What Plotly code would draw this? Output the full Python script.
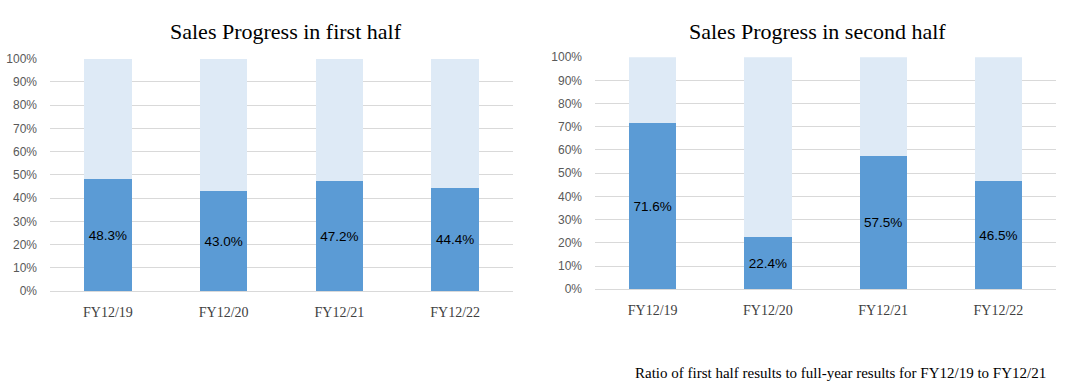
import plotly.graph_objects as go

categories = ["FY12/19", "FY12/20", "FY12/21", "FY12/22"]
first_half = [48.3, 43.0, 47.2, 44.4]
second_half = [71.6, 22.4, 57.5, 46.5]
tick_vals = [0, 10, 20, 30, 40, 50, 60, 70, 80, 90, 100]
tick_text = [f"{v}%" for v in tick_vals]

titles = ["Sales Progress in first half", "Sales Progress in second half"]
footnote = "Ratio of first half results to full-year results for FY12/19 to FY12/21"

DARK = "#5B9BD5"
LIGHT = "#DEEAF6"
GRID = "#D9D9D9"

W, H = 1084, 390

fig = go.Figure()

for i, vals in enumerate([first_half, second_half]):
    xa = "x" if i == 0 else "x2"
    ya = "y" if i == 0 else "y2"
    rest = [round(100 - v, 1) for v in vals]
    fig.add_trace(go.Bar(
        x=categories, y=vals, xaxis=xa, yaxis=ya,
        marker=dict(color=DARK, line=dict(width=0)),
        texttemplate="%{y:.1f}%", textposition="inside",
        insidetextanchor="middle", textangle=0,
        textfont=dict(family="Liberation Sans", size=13.5, color="#000000"),
        showlegend=False, hoverinfo="skip",
    ))
    fig.add_trace(go.Bar(
        x=categories, y=rest, xaxis=xa, yaxis=ya,
        marker=dict(color=LIGHT, line=dict(width=0)),
        showlegend=False, hoverinfo="skip",
    ))

# observed rendering maps spec pixel p -> 7.5 + p*375/390 vertically
def vy(p):
    return (p - 7.5) * 390 / 375

def px_x(a, b):
    return [a / W, b / W]

def px_y(top, bottom):
    return [1 - vy(bottom) / H, 1 - vy(top) / H]

xcommon = dict(
    showgrid=False, zeroline=False, showline=False, ticks="",
    tickfont=dict(family="Liberation Serif", size=14, color="#404040"),
    ticklabelstandoff=11, fixedrange=True,
)
ycommon = dict(
    range=[0, 100], tickvals=tick_vals, ticktext=tick_text,
    showgrid=True, gridcolor=GRID, gridwidth=1, zeroline=True,
    zerolinecolor=GRID, zerolinewidth=1, showline=False, ticks="",
    tickfont=dict(family="Liberation Sans", size=12, color="#595959"),
    ticklabelstandoff=12, fixedrange=True,
)

fig.update_layout(
    width=W, height=H, autosize=False,
    margin=dict(l=0, r=0, t=0, b=0),
    paper_bgcolor="white", plot_bgcolor="white",
    barmode="stack", bargap=0.59,
    xaxis=dict(domain=px_x(50, 513), anchor="y", **xcommon),
    yaxis=dict(domain=px_y(59, 291), anchor="x", **ycommon),
    xaxis2=dict(domain=px_x(595, 1056), anchor="y2", **xcommon),
    yaxis2=dict(domain=px_y(57.5, 289), anchor="x2", **ycommon),
    annotations=[
        dict(text=titles[0], x=286 / W, y=1 - vy(32) / H, xref="paper", yref="paper",
             xanchor="center", yanchor="middle", showarrow=False,
             font=dict(family="Liberation Serif", size=22, color="#000000")),
        dict(text=titles[1], x=817 / W, y=1 - vy(32) / H, xref="paper", yref="paper",
             xanchor="center", yanchor="middle", showarrow=False,
             font=dict(family="Liberation Serif", size=22, color="#000000")),
        dict(text=footnote, x=840 / W, y=1 - vy(373) / H, xref="paper", yref="paper",
             xanchor="center", yanchor="middle", showarrow=False,
             font=dict(family="Liberation Serif", size=15, color="#000000")),
    ],
)

fig.write_html(
    "out.html",
    config={"responsive": False, "displayModeBar": False},
    post_script="document.body.style.margin='0px';document.body.style.overflow='hidden';",
)
